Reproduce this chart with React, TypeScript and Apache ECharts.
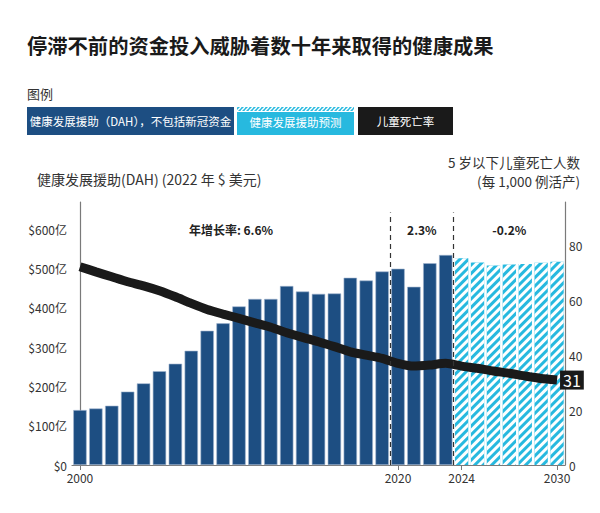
import React, { useEffect, useRef } from "react";
import * as echarts from "echarts";

const years = [
  "2000", "2001", "2002", "2003", "2004", "2005", "2006", "2007", "2008", "2009",
  "2010", "2011", "2012", "2013", "2014", "2015", "2016", "2017", "2018", "2019",
  "2020", "2021", "2022", "2023", "2024", "2025", "2026", "2027", "2028", "2029", "2030",
];
const shownYears = ["2000", "2020", "2024", "2030"];

// DAH, 亿美元 (2022 USD)
const dahActual = [140, 144, 151, 187, 208, 239, 258, 291, 342, 361, 404, 423, 423, 456, 442, 436, 437, 477, 470, 493, 500, 454, 514, 535];
const dahForecast = [527, 516, 508, 511, 512, 515, 518];

// Under-5 mortality per 1,000 live births
const childMortality = [72.4, 70.5, 68.7, 66.9, 65.4, 63.6, 61.4, 59.0, 56.8, 55.1, 53.5, 51.9, 50.3, 48.3, 46.6, 45.0, 43.2, 41.3, 40.1, 38.9, 37.1, 36.1, 36.5, 37.1, 36.1, 35.3, 34.3, 33.5, 32.5, 31.6, 31];

const periodLabels = ["年增长率: 6.6%", "2.3%", "-0.2%"];
const periodBounds = [-0.5, 19.5, 23.5, 30.5];

const legendItems = ["健康发展援助（DAH），不包括新冠资金", "健康发展援助预测", "儿童死亡率"];

const DARK = "#1d4e82";
const CYAN = "#27b9df";
const BLACK = "#1a1a1a";
const FONT = "'Noto Sans CJK SC', 'Noto Sans', sans-serif";

export default function App() {
  const ref = useRef<HTMLDivElement>(null);
  useEffect(() => {
    if (!ref.current) return;
    const chart = echarts.init(ref.current, undefined, { renderer: "svg" });

    const barData: any[] = [
      ...dahActual.map((v) => ({ value: v, itemStyle: { decal: "none" } })),
      ...dahForecast.map((v) => ({
        value: v,
        itemStyle: {
          color: CYAN,
          borderWidth: 0,
          decal: {
            symbol: "rect",
            symbolSize: 1,
            color: "#ffffff",
            dashArrayX: [1, 0],
            dashArrayY: [2.2, 2.2],
            rotation: -Math.PI / 4,
          },
        },
      })),
    ];

    // legend stripes for forecast box
    const stripeLines: any[] = [];
    for (let i = -4; i < 117; i += 4) {
      stripeLines.push({
        type: "line",
        shape: { x1: 237 + i, y1: 111, x2: 237 + i + 4, y2: 107 },
        style: { stroke: "#fff", lineWidth: 1.4 },
      });
    }

    const option: any = {
      animation: false,
      aria: { enabled: true, decal: { show: true } },
      textStyle: { fontFamily: FONT },
      grid: { left: 72, right: 35, top: 202, bottom: 48 },
      xAxis: [
        {
          type: "category",
          data: years,
          axisLine: { show: true, lineStyle: { color: "#7a7a7a", width: 1.2 } },
          axisTick: {
            show: true,
            alignWithLabel: true,
            length: 5,
            interval: (_i: number, v: string) => shownYears.includes(v),
            lineStyle: { color: "#7a7a7a" },
          },
          axisLabel: {
            interval: (_i: number, v: string) => shownYears.includes(v),
            color: "#333",
            fontSize: 12,
            margin: 6,
            fontFamily: FONT,
          },
        },
        { type: "value", min: -0.5, max: 30.5, show: false },
      ],
      yAxis: [
        {
          type: "value",
          min: 0,
          max: 670,
          interval: 100,
          splitLine: { show: false },
          axisTick: { show: false },
          axisLine: { show: true, lineStyle: { color: "#7a7a7a", width: 1.2 } },
          axisLabel: {
            showMaxLabel: false,
            color: "#333",
            fontSize: 12,
            margin: 5,
            fontFamily: FONT,
            formatter: (v: number) => (v === 0 ? "$0" : v % 100 === 0 ? `$${v}亿` : ""),
          },
        },
        {
          type: "value",
          min: 0,
          max: 96,
          interval: 20,
          position: "right",
          splitLine: { show: false },
          axisTick: { show: false },
          axisLine: { show: true, lineStyle: { color: "#7a7a7a", width: 1.2 } },
          axisLabel: {
            showMaxLabel: false,
            color: "#333",
            fontSize: 12,
            margin: 4,
            fontFamily: FONT,
            formatter: (v: number) => (v % 20 === 0 ? String(v) : ""),
          },
        },
      ],
      series: [
        {
          type: "bar",
          xAxisIndex: 0,
          yAxisIndex: 0,
          data: barData,
          barCategoryGap: "16%",
          itemStyle: { color: DARK, borderColor: "#9fb4cf", borderWidth: 0.6 },
          z: 2,
        },
        {
          type: "line",
          xAxisIndex: 1,
          yAxisIndex: 0,
          data: [],
          z: 3,
          markLine: {
            silent: true,
            symbol: "none",
            label: { show: false },
            lineStyle: { type: [5, 4], color: "#333", width: 1.2 },
            data: [
              [{ coord: [periodBounds[1], 0] }, { coord: [periodBounds[1], 643] }],
              [{ coord: [periodBounds[2], 0] }, { coord: [periodBounds[2], 643] }],
            ],
          },
          markArea: {
            silent: true,
            itemStyle: { color: "rgba(0,0,0,0)" },
            label: {
              position: "inside",
              fontWeight: "bold",
              fontSize: 12,
              color: "#222",
              fontFamily: FONT,
            },
            data: periodLabels.map((name, i) => [
              { name, coord: [periodBounds[i], 590] },
              { coord: [periodBounds[i + 1], 610] },
            ]),
          },
        },
        {
          type: "line",
          xAxisIndex: 0,
          yAxisIndex: 1,
          data: childMortality,
          symbol: "none",
          smooth: 0.2,
          lineStyle: { color: BLACK, width: 9 },
          itemStyle: { color: BLACK },
          z: 4,
          endLabel: {
            show: true,
            formatter: (p: any) => String(Math.round(p.value)),
            color: "#fff",
            backgroundColor: BLACK,
            fontSize: 16,
            padding: [2, 3, 1, 3],
            distance: 3,
            fontFamily: FONT,
          },
        },
      ],
      graphic: [
        {
          type: "text",
          left: 27,
          top: 35,
          style: { text: "停滞不前的资金投入威胁着数十年来取得的健康成果", fontSize: 20.3, fontWeight: "bold", fill: "#1a1a1a", fontFamily: FONT },
        },
        {
          type: "text",
          left: 27,
          top: 87,
          style: { text: "图例", fontSize: 13, fill: "#333", fontFamily: FONT },
        },
        { type: "rect", shape: { x: 27, y: 107, width: 207, height: 28 }, style: { fill: DARK } },
        {
          type: "text",
          x: 130.5,
          y: 121,
          style: { text: legendItems[0], fontSize: 11.5, fill: "#fff", align: "center", verticalAlign: "middle", fontFamily: FONT },
        },
        { type: "rect", shape: { x: 237, y: 107, width: 117, height: 4 }, style: { fill: CYAN } },
        { type: "group", children: stripeLines, clipPath: { type: "rect", shape: { x: 237, y: 107, width: 117, height: 4 } } },
        { type: "rect", shape: { x: 237, y: 112, width: 117, height: 23 }, style: { fill: CYAN } },
        {
          type: "text",
          x: 295.5,
          y: 122,
          style: { text: legendItems[1], fontSize: 11.5, fill: "#fff", align: "center", verticalAlign: "middle", fontFamily: FONT },
        },
        { type: "rect", shape: { x: 358, y: 107, width: 95, height: 28 }, style: { fill: BLACK } },
        {
          type: "text",
          x: 405.5,
          y: 121,
          style: { text: legendItems[2], fontSize: 11.5, fill: "#fff", align: "center", verticalAlign: "middle", fontFamily: FONT },
        },
        {
          type: "text",
          left: 37,
          top: 172,
          style: { text: "健康发展援助(DAH) (2022 年 $ 美元)", fontSize: 14, fill: "#333", fontFamily: FONT },
        },
        {
          type: "text",
          x: 580,
          y: 162,
          style: { text: "5 岁以下儿童死亡人数", fontSize: 13.5, lineHeight: 15, fill: "#333", align: "right", verticalAlign: "middle", fontFamily: FONT },
        },
        {
          type: "text",
          x: 580,
          y: 180.5,
          style: { text: "(每 1,000 例活产)", fontSize: 13.5, lineHeight: 15, fill: "#333", align: "right", verticalAlign: "middle", fontFamily: FONT },
        },
      ],
    };

    chart.setOption(option);
    return () => chart.dispose();
  }, []);

  return <div ref={ref} style={{ width: 600, height: 513, margin: -8 }} />;
}
